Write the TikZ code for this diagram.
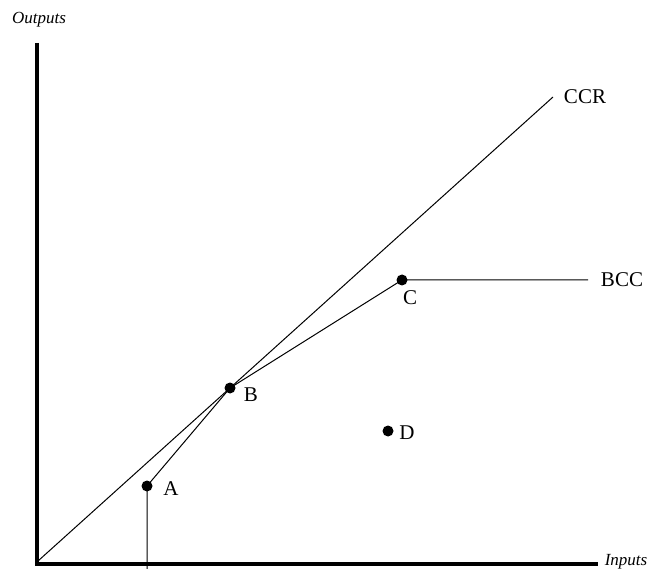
\documentclass[tikz,border=0pt]{standalone}
\usepackage{fontspec}
\setmainfont{Liberation Serif}
\begin{document}
\begin{tikzpicture}[x=1pt,y=-1pt,
  dot/.style={circle,fill=black,inner sep=0pt,minimum size=11pt},
  thin line/.style={line width=1pt,black},
  axis/.style={line width=4pt,black},
  lbl/.style={font=\fontsize{21}{21}\selectfont,inner sep=0pt},
  axlbl/.style={font=\fontsize{17}{17}\selectfont\itshape,inner sep=0pt}]
\useasboundingbox (0,0) rectangle (648,569);
% axes
\coordinate (top) at (37,43);
\coordinate (O) at (37,564);
\coordinate (xend) at (598,564);
\draw[axis] (top) -- (O) -- (xend);
\node[axlbl] (outputs) at (39,20) {Outputs};
\node[axlbl] (inputs) at (626,562) {Inputs};
% points
\node[dot] (A) at (147,486) {};
\node[dot] (B) at (230,388) {};
\node[dot] (C) at (402,280) {};
\node[dot] (D) at (388,431) {};
\node[lbl] at (171,489) {A};
\node[lbl] at (251,395) {B};
\node[lbl] at (410,298) {C};
\node[lbl] at (407,433) {D};
% frontiers
\coordinate (o2) at (38,561);
\coordinate (ccrend) at (553,97);
\coordinate (bccend) at (588,280);
\coordinate (Abot) at (147,569);
\draw[thin line] (o2) -- (ccrend);
\node[lbl] (CCR) at (585,97) {CCR};
\draw[thin line] (Abot) -- (A.center) -- (B.center) -- (C.center) -- (bccend);
\node[lbl] (BCC) at (622,280) {BCC};
\end{tikzpicture}
\end{document}
